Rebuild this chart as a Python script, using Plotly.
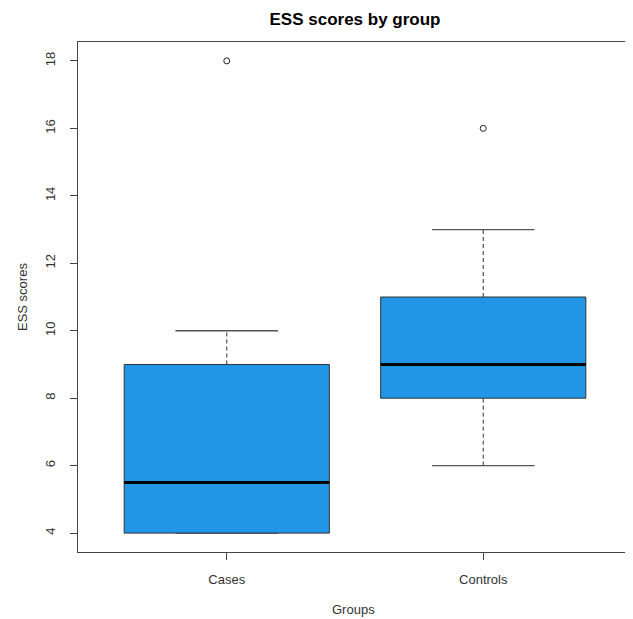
import plotly.graph_objects as go

groups = ["Cases", "Controls"]
positions = [1, 2]
lower_whisker = [4, 6]
q1 = [4, 8]
median = [5.5, 9]
q3 = [9, 11]
upper_whisker = [10, 13]
outliers = [[18], [16]]

box_fill = "#2196e6"
box_half = 0.4
cap_half = 0.2

# page body has an 8px margin; figure is placed at (8, 8)
OFF = 8
W, H = 633 - OFF, 619 - OFF
L, T = 78 - OFF, 42 - OFF
R = W - (632 - OFF)
B = H - (552 - OFF)
PW, PH = W - L - R, H - T - B

fig = go.Figure()
shapes = []
for i, p in enumerate(positions):
    for a, b in [(lower_whisker[i], q1[i]), (q3[i], upper_whisker[i])]:
        if a != b:
            fig.add_trace(go.Scatter(x=[p, p], y=[a, b], mode="lines",
                                     line=dict(color="#333333", width=1, dash="4px,3px"),
                                     showlegend=False, hoverinfo="skip"))
    for v in [lower_whisker[i], upper_whisker[i]]:
        fig.add_trace(go.Scatter(x=[p - cap_half, p + cap_half], y=[v, v], mode="lines",
                                 line=dict(color="#555555", width=1.3),
                                 showlegend=False, hoverinfo="skip"))
    shapes.append(dict(type="rect", xref="x", yref="y", x0=p - box_half, x1=p + box_half,
                       y0=q1[i], y1=q3[i], fillcolor=box_fill,
                       line=dict(color="#333333", width=1), layer="above"))
    shapes.append(dict(type="line", xref="x", yref="y", x0=p - box_half, x1=p + box_half,
                       y0=median[i], y1=median[i], line=dict(color="#000000", width=3),
                       layer="above"))
    fig.add_trace(go.Scatter(x=[p] * len(outliers[i]), y=outliers[i], mode="markers",
                             marker=dict(symbol="circle-open", size=6, color="#222222",
                                         line=dict(width=1)),
                             showlegend=False, hoverinfo="skip"))

fig.update_layout(
    width=W, height=H,
    margin=dict(l=L, r=R, t=T, b=B),
    paper_bgcolor="white", plot_bgcolor="white",
    font=dict(family="Liberation Sans, Arial", color="#333333"),
    shapes=shapes,
    title=dict(text="<b>ESS scores by group</b>", x=0.5, xref="paper",
               y=1 - (19 - OFF) / H, yref="container", yanchor="middle", xanchor="center",
               font=dict(size=17, color="#000000")),
    xaxis=dict(range=[0.42, 2.58], tickvals=positions, ticktext=groups,
               showgrid=False, zeroline=False, showline=True, mirror=True,
               linecolor="#444444", linewidth=1.2, ticks="outside", ticklen=7,
               tickcolor="#444444", tickfont=dict(size=13, color="#333333"),
               ticklabelstandoff=8),
    yaxis=dict(range=[3.44, 18.56], tickvals=[4, 6, 8, 10, 12, 14, 16, 18],
               showgrid=False, zeroline=False, showline=True, mirror=True,
               linecolor="#444444", linewidth=1.2, ticks="outside", ticklen=7,
               tickcolor="#444444", tickangle=-90, tickfont=dict(size=13, color="#333333"),
               ticklabelstandoff=10),
    annotations=[
        dict(text="ESS scores", xref="paper", yref="paper", x=(22 - 78) / PW, y=0.5,
             textangle=-90, showarrow=False, font=dict(size=13, color="#333333"),
             xanchor="center", yanchor="middle"),
        dict(text="Groups", xref="paper", yref="paper", x=(353 - 78) / PW,
             y=(552 - 609) / PH, showarrow=False, font=dict(size=13, color="#333333"),
             xanchor="center", yanchor="middle"),
    ],
)

fig.write_html("out.html")
